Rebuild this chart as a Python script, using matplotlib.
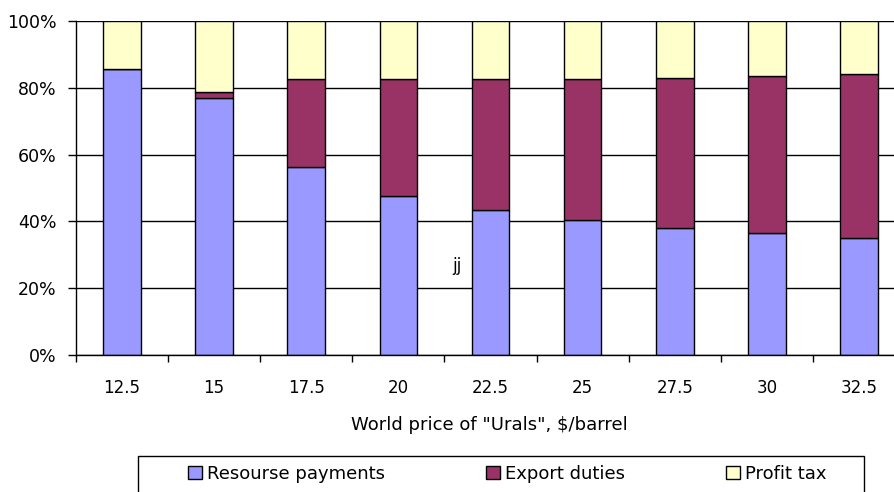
import numpy as np
import matplotlib.pyplot as plt
from matplotlib.ticker import FuncFormatter
from matplotlib.patches import Rectangle

# world price of Urals, $/barrel
prices = ["12.5", "15", "17.5", "20", "22.5", "25", "27.5", "30", "32.5"]

# shares of total, %
resource = [85.6, 76.8, 56.2, 47.7, 43.4, 40.4, 37.9, 36.6, 35.1]
export = [0.0, 2.0, 26.4, 34.9, 39.2, 42.2, 45.1, 47.0, 48.9]
profit = [14.4, 21.2, 17.4, 17.4, 17.4, 17.4, 17.0, 16.4, 16.0]

c_res = "#9999FF"
c_exp = "#993366"
c_pro = "#FFFFCC"

W, H = 894, 492
fig = plt.figure(figsize=(W / 100, H / 100), dpi=100)
# plot area runs past the right edge of the figure, like the original
ax = fig.add_axes([76 / W, 1 - 355 / H, 829 / W, 334 / H])

x = np.arange(len(prices))
w = 0.41
res = np.array(resource)
exp_ = np.array(export)
pro = np.array(profit)

ax.set_axisbelow(True)
ax.yaxis.grid(True, color="black", linewidth=1.0)

ax.bar(x, res, w, color=c_res, edgecolor="black", linewidth=1.0, label="Resourse payments")
ax.bar(x, exp_, w, bottom=res, color=c_exp, edgecolor="black", linewidth=1.0, label="Export duties")
ax.bar(x, pro, w, bottom=res + exp_, color=c_pro, edgecolor="black", linewidth=1.0, label="Profit tax")

ax.set_xlim(-0.5, len(prices) - 0.5)
ax.set_ylim(0, 100)
ax.set_yticks([0, 20, 40, 60, 80, 100])
ax.yaxis.set_major_formatter(FuncFormatter(lambda v, p: "%d%%" % v))

ax.set_xticks(x)
ax.set_xticklabels(prices)
ax.set_xticks(np.arange(len(prices) + 1) - 0.5, minor=True)
ax.tick_params(axis="x", which="major", length=0, pad=17, labelsize=12)
ax.tick_params(axis="x", which="minor", length=5, width=1, direction="out")
ax.tick_params(axis="y", length=6, width=1, direction="out", pad=8, labelsize=12.5)

for s in ["top", "right"]:
    ax.spines[s].set_visible(False)
ax.spines["left"].set_linewidth(1.0)
ax.spines["bottom"].set_linewidth(1.0)

ax.set_xlabel('World price of "Urals", $/barrel', fontsize=13)
ax.xaxis.set_label_coords((489 - 76) / 829, -(416 - 355) / 334)

ax.text(3.64, 26.6, "jj", ha="center", va="center", fontsize=12)

# legend box, cut off by the bottom edge
fig.patches.append(Rectangle((138 / W, 1 - 496 / H), 726 / W, 40 / H,
                             transform=fig.transFigure, facecolor="white",
                             edgecolor="black", linewidth=1.0))
fig.legend(loc="center left", bbox_to_anchor=(188 / W, 1 - 474 / H),
           ncol=3, fontsize=13, frameon=False, handlelength=0.75, handleheight=0.75,
           handletextpad=0.3, columnspacing=5.6, borderpad=0, borderaxespad=0)

plt.savefig("out.png", dpi=100)
